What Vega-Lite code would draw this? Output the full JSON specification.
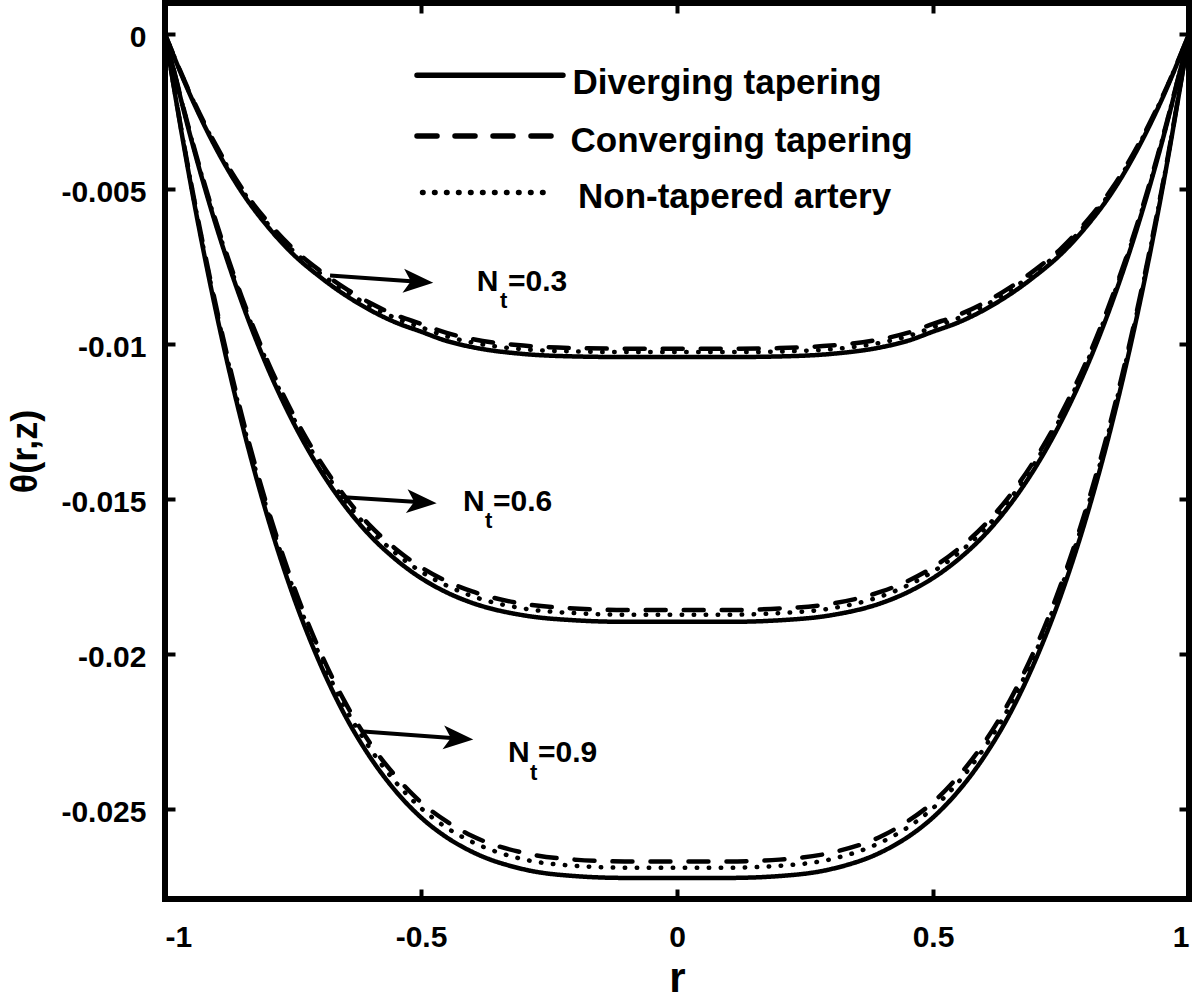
{
  "$schema": "https://vega.github.io/schema/vega-lite/v6.json",
  "description": "Temperature profile theta(r,z) across the artery for three Nt values and three tapering shapes",
  "width": 1024,
  "height": 896,
  "autosize": {"type": "none"},
  "padding": {"left": 165, "top": 3, "right": 11, "bottom": 102},
  "config": {
    "view": {"stroke": "black", "strokeWidth": 6},
    "font": "Liberation Sans",
    "axis": {
      "domain": false,
      "grid": false,
      "tickSize": -10,
      "tickWidth": 4,
      "tickColor": "black",
      "labelFont": "Liberation Sans",
      "labelFontSize": 30,
      "labelFontWeight": "bold",
      "labelColor": "black",
      "titleFont": "Liberation Sans",
      "titleFontWeight": "bold",
      "titleColor": "black"
    }
  },
  "datasets": {
    "curves": [
      {"r":-1,"v":0,"s":"D","n":"0.3"},{"r":-0.95,"v":-0.002,"s":"D","n":"0.3"},{"r":-0.9,"v":-0.0037,"s":"D","n":"0.3"},{"r":-0.85,"v":-0.0051,"s":"D","n":"0.3"},{"r":-0.8,"v":-0.0062,"s":"D","n":"0.3"},{"r":-0.75,"v":-0.0071,"s":"D","n":"0.3"},{"r":-0.7,"v":-0.0078,"s":"D","n":"0.3"},{"r":-0.65,"v":-0.0084,"s":"D","n":"0.3"},{"r":-0.6,"v":-0.0089,"s":"D","n":"0.3"},{"r":-0.55,"v":-0.0093,"s":"D","n":"0.3"},{"r":-0.5,"v":-0.0096,"s":"D","n":"0.3"},{"r":-0.45,"v":-0.0099,"s":"D","n":"0.3"},{"r":-0.4,"v":-0.0101,"s":"D","n":"0.3"},{"r":-0.3,"v":-0.01032,"s":"D","n":"0.3"},{"r":-0.2,"v":-0.0104,"s":"D","n":"0.3"},{"r":-0.1,"v":-0.01042,"s":"D","n":"0.3"},{"r":0,"v":-0.01042,"s":"D","n":"0.3"},{"r":0.1,"v":-0.01042,"s":"D","n":"0.3"},{"r":0.2,"v":-0.0104,"s":"D","n":"0.3"},{"r":0.3,"v":-0.01032,"s":"D","n":"0.3"},{"r":0.4,"v":-0.0101,"s":"D","n":"0.3"},{"r":0.45,"v":-0.0099,"s":"D","n":"0.3"},{"r":0.5,"v":-0.0096,"s":"D","n":"0.3"},{"r":0.55,"v":-0.0093,"s":"D","n":"0.3"},{"r":0.6,"v":-0.0089,"s":"D","n":"0.3"},{"r":0.65,"v":-0.0084,"s":"D","n":"0.3"},{"r":0.7,"v":-0.0078,"s":"D","n":"0.3"},{"r":0.75,"v":-0.0071,"s":"D","n":"0.3"},{"r":0.8,"v":-0.0062,"s":"D","n":"0.3"},{"r":0.85,"v":-0.0051,"s":"D","n":"0.3"},{"r":0.9,"v":-0.0037,"s":"D","n":"0.3"},{"r":0.95,"v":-0.002,"s":"D","n":"0.3"},{"r":1,"v":0,"s":"D","n":"0.3"},

      {"r":-1,"v":0,"s":"D","n":"0.6"},{"r":-0.95,"v":-0.00332,"s":"D","n":"0.6"},{"r":-0.9,"v":-0.00619,"s":"D","n":"0.6"},{"r":-0.85,"v":-0.00865,"s":"D","n":"0.6"},{"r":-0.8,"v":-0.01075,"s":"D","n":"0.6"},{"r":-0.75,"v":-0.01251,"s":"D","n":"0.6"},{"r":-0.7,"v":-0.01398,"s":"D","n":"0.6"},{"r":-0.65,"v":-0.01519,"s":"D","n":"0.6"},{"r":-0.6,"v":-0.01617,"s":"D","n":"0.6"},{"r":-0.55,"v":-0.01694,"s":"D","n":"0.6"},{"r":-0.5,"v":-0.01755,"s":"D","n":"0.6"},{"r":-0.45,"v":-0.01801,"s":"D","n":"0.6"},{"r":-0.4,"v":-0.01835,"s":"D","n":"0.6"},{"r":-0.3,"v":-0.01875,"s":"D","n":"0.6"},{"r":-0.2,"v":-0.01891,"s":"D","n":"0.6"},{"r":-0.1,"v":-0.01896,"s":"D","n":"0.6"},{"r":0,"v":-0.01896,"s":"D","n":"0.6"},{"r":0.1,"v":-0.01896,"s":"D","n":"0.6"},{"r":0.2,"v":-0.01891,"s":"D","n":"0.6"},{"r":0.3,"v":-0.01875,"s":"D","n":"0.6"},{"r":0.4,"v":-0.01835,"s":"D","n":"0.6"},{"r":0.45,"v":-0.01801,"s":"D","n":"0.6"},{"r":0.5,"v":-0.01755,"s":"D","n":"0.6"},{"r":0.55,"v":-0.01694,"s":"D","n":"0.6"},{"r":0.6,"v":-0.01617,"s":"D","n":"0.6"},{"r":0.65,"v":-0.01519,"s":"D","n":"0.6"},{"r":0.7,"v":-0.01398,"s":"D","n":"0.6"},{"r":0.75,"v":-0.01251,"s":"D","n":"0.6"},{"r":0.8,"v":-0.01075,"s":"D","n":"0.6"},{"r":0.85,"v":-0.00865,"s":"D","n":"0.6"},{"r":0.9,"v":-0.00619,"s":"D","n":"0.6"},{"r":0.95,"v":-0.00332,"s":"D","n":"0.6"},{"r":1,"v":0,"s":"D","n":"0.6"},

      {"r":-1,"v":0,"s":"D","n":"0.9"},{"r":-0.95,"v":-0.00482,"s":"D","n":"0.9"},{"r":-0.9,"v":-0.00898,"s":"D","n":"0.9"},{"r":-0.85,"v":-0.01254,"s":"D","n":"0.9"},{"r":-0.8,"v":-0.01556,"s":"D","n":"0.9"},{"r":-0.75,"v":-0.0181,"s":"D","n":"0.9"},{"r":-0.7,"v":-0.0202,"s":"D","n":"0.9"},{"r":-0.65,"v":-0.02193,"s":"D","n":"0.9"},{"r":-0.6,"v":-0.02331,"s":"D","n":"0.9"},{"r":-0.55,"v":-0.02441,"s":"D","n":"0.9"},{"r":-0.5,"v":-0.02527,"s":"D","n":"0.9"},{"r":-0.45,"v":-0.02591,"s":"D","n":"0.9"},{"r":-0.4,"v":-0.02638,"s":"D","n":"0.9"},{"r":-0.3,"v":-0.02694,"s":"D","n":"0.9"},{"r":-0.2,"v":-0.02716,"s":"D","n":"0.9"},{"r":-0.1,"v":-0.02722,"s":"D","n":"0.9"},{"r":0,"v":-0.02722,"s":"D","n":"0.9"},{"r":0.1,"v":-0.02722,"s":"D","n":"0.9"},{"r":0.2,"v":-0.02716,"s":"D","n":"0.9"},{"r":0.3,"v":-0.02694,"s":"D","n":"0.9"},{"r":0.4,"v":-0.02638,"s":"D","n":"0.9"},{"r":0.45,"v":-0.02591,"s":"D","n":"0.9"},{"r":0.5,"v":-0.02527,"s":"D","n":"0.9"},{"r":0.55,"v":-0.02441,"s":"D","n":"0.9"},{"r":0.6,"v":-0.02331,"s":"D","n":"0.9"},{"r":0.65,"v":-0.02193,"s":"D","n":"0.9"},{"r":0.7,"v":-0.0202,"s":"D","n":"0.9"},{"r":0.75,"v":-0.0181,"s":"D","n":"0.9"},{"r":0.8,"v":-0.01556,"s":"D","n":"0.9"},{"r":0.85,"v":-0.01254,"s":"D","n":"0.9"},{"r":0.9,"v":-0.00898,"s":"D","n":"0.9"},{"r":0.95,"v":-0.00482,"s":"D","n":"0.9"},{"r":1,"v":0,"s":"D","n":"0.9"},

      {"r":-1,"v":0,"s":"N","n":"0.3"},{"r":-0.95,"v":-0.00197,"s":"N","n":"0.3"},{"r":-0.9,"v":-0.00364,"s":"N","n":"0.3"},{"r":-0.85,"v":-0.00502,"s":"N","n":"0.3"},{"r":-0.8,"v":-0.00611,"s":"N","n":"0.3"},{"r":-0.75,"v":-0.00699,"s":"N","n":"0.3"},{"r":-0.7,"v":-0.00768,"s":"N","n":"0.3"},{"r":-0.65,"v":-0.00827,"s":"N","n":"0.3"},{"r":-0.6,"v":-0.00877,"s":"N","n":"0.3"},{"r":-0.55,"v":-0.00916,"s":"N","n":"0.3"},{"r":-0.5,"v":-0.00946,"s":"N","n":"0.3"},{"r":-0.45,"v":-0.00975,"s":"N","n":"0.3"},{"r":-0.4,"v":-0.00995,"s":"N","n":"0.3"},{"r":-0.3,"v":-0.01017,"s":"N","n":"0.3"},{"r":-0.2,"v":-0.01024,"s":"N","n":"0.3"},{"r":-0.1,"v":-0.01026,"s":"N","n":"0.3"},{"r":0,"v":-0.01026,"s":"N","n":"0.3"},{"r":0.1,"v":-0.01026,"s":"N","n":"0.3"},{"r":0.2,"v":-0.01024,"s":"N","n":"0.3"},{"r":0.3,"v":-0.01017,"s":"N","n":"0.3"},{"r":0.4,"v":-0.00995,"s":"N","n":"0.3"},{"r":0.45,"v":-0.00975,"s":"N","n":"0.3"},{"r":0.5,"v":-0.00946,"s":"N","n":"0.3"},{"r":0.55,"v":-0.00916,"s":"N","n":"0.3"},{"r":0.6,"v":-0.00877,"s":"N","n":"0.3"},{"r":0.65,"v":-0.00827,"s":"N","n":"0.3"},{"r":0.7,"v":-0.00768,"s":"N","n":"0.3"},{"r":0.75,"v":-0.00699,"s":"N","n":"0.3"},{"r":0.8,"v":-0.00611,"s":"N","n":"0.3"},{"r":0.85,"v":-0.00502,"s":"N","n":"0.3"},{"r":0.9,"v":-0.00364,"s":"N","n":"0.3"},{"r":0.95,"v":-0.00197,"s":"N","n":"0.3"},{"r":1,"v":0,"s":"N","n":"0.3"},

      {"r":-1,"v":0,"s":"N","n":"0.6"},{"r":-0.95,"v":-0.00328,"s":"N","n":"0.6"},{"r":-0.9,"v":-0.00612,"s":"N","n":"0.6"},{"r":-0.85,"v":-0.00855,"s":"N","n":"0.6"},{"r":-0.8,"v":-0.01062,"s":"N","n":"0.6"},{"r":-0.75,"v":-0.01236,"s":"N","n":"0.6"},{"r":-0.7,"v":-0.01381,"s":"N","n":"0.6"},{"r":-0.65,"v":-0.01501,"s":"N","n":"0.6"},{"r":-0.6,"v":-0.01598,"s":"N","n":"0.6"},{"r":-0.55,"v":-0.01674,"s":"N","n":"0.6"},{"r":-0.5,"v":-0.01734,"s":"N","n":"0.6"},{"r":-0.45,"v":-0.01779,"s":"N","n":"0.6"},{"r":-0.4,"v":-0.01813,"s":"N","n":"0.6"},{"r":-0.3,"v":-0.01853,"s":"N","n":"0.6"},{"r":-0.2,"v":-0.01868,"s":"N","n":"0.6"},{"r":-0.1,"v":-0.01873,"s":"N","n":"0.6"},{"r":0,"v":-0.01873,"s":"N","n":"0.6"},{"r":0.1,"v":-0.01873,"s":"N","n":"0.6"},{"r":0.2,"v":-0.01868,"s":"N","n":"0.6"},{"r":0.3,"v":-0.01853,"s":"N","n":"0.6"},{"r":0.4,"v":-0.01813,"s":"N","n":"0.6"},{"r":0.45,"v":-0.01779,"s":"N","n":"0.6"},{"r":0.5,"v":-0.01734,"s":"N","n":"0.6"},{"r":0.55,"v":-0.01674,"s":"N","n":"0.6"},{"r":0.6,"v":-0.01598,"s":"N","n":"0.6"},{"r":0.65,"v":-0.01501,"s":"N","n":"0.6"},{"r":0.7,"v":-0.01381,"s":"N","n":"0.6"},{"r":0.75,"v":-0.01236,"s":"N","n":"0.6"},{"r":0.8,"v":-0.01062,"s":"N","n":"0.6"},{"r":0.85,"v":-0.00855,"s":"N","n":"0.6"},{"r":0.9,"v":-0.00612,"s":"N","n":"0.6"},{"r":0.95,"v":-0.00328,"s":"N","n":"0.6"},{"r":1,"v":0,"s":"N","n":"0.6"},

      {"r":-1,"v":0,"s":"N","n":"0.9"},{"r":-0.95,"v":-0.00476,"s":"N","n":"0.9"},{"r":-0.9,"v":-0.00887,"s":"N","n":"0.9"},{"r":-0.85,"v":-0.01239,"s":"N","n":"0.9"},{"r":-0.8,"v":-0.01537,"s":"N","n":"0.9"},{"r":-0.75,"v":-0.01788,"s":"N","n":"0.9"},{"r":-0.7,"v":-0.01996,"s":"N","n":"0.9"},{"r":-0.65,"v":-0.02167,"s":"N","n":"0.9"},{"r":-0.6,"v":-0.02303,"s":"N","n":"0.9"},{"r":-0.55,"v":-0.02412,"s":"N","n":"0.9"},{"r":-0.5,"v":-0.02497,"s":"N","n":"0.9"},{"r":-0.45,"v":-0.0256,"s":"N","n":"0.9"},{"r":-0.4,"v":-0.02606,"s":"N","n":"0.9"},{"r":-0.3,"v":-0.02662,"s":"N","n":"0.9"},{"r":-0.2,"v":-0.02683,"s":"N","n":"0.9"},{"r":-0.1,"v":-0.02689,"s":"N","n":"0.9"},{"r":0,"v":-0.02689,"s":"N","n":"0.9"},{"r":0.1,"v":-0.02689,"s":"N","n":"0.9"},{"r":0.2,"v":-0.02683,"s":"N","n":"0.9"},{"r":0.3,"v":-0.02662,"s":"N","n":"0.9"},{"r":0.4,"v":-0.02606,"s":"N","n":"0.9"},{"r":0.45,"v":-0.0256,"s":"N","n":"0.9"},{"r":0.5,"v":-0.02497,"s":"N","n":"0.9"},{"r":0.55,"v":-0.02412,"s":"N","n":"0.9"},{"r":0.6,"v":-0.02303,"s":"N","n":"0.9"},{"r":0.65,"v":-0.02167,"s":"N","n":"0.9"},{"r":0.7,"v":-0.01996,"s":"N","n":"0.9"},{"r":0.75,"v":-0.01788,"s":"N","n":"0.9"},{"r":0.8,"v":-0.01537,"s":"N","n":"0.9"},{"r":0.85,"v":-0.01239,"s":"N","n":"0.9"},{"r":0.9,"v":-0.00887,"s":"N","n":"0.9"},{"r":0.95,"v":-0.00476,"s":"N","n":"0.9"},{"r":1,"v":0,"s":"N","n":"0.9"},

      {"r":-1,"v":0,"s":"C","n":"0.3"},{"r":-0.95,"v":-0.00195,"s":"C","n":"0.3"},{"r":-0.9,"v":-0.0036,"s":"C","n":"0.3"},{"r":-0.85,"v":-0.00497,"s":"C","n":"0.3"},{"r":-0.8,"v":-0.00604,"s":"C","n":"0.3"},{"r":-0.75,"v":-0.00692,"s":"C","n":"0.3"},{"r":-0.7,"v":-0.0076,"s":"C","n":"0.3"},{"r":-0.65,"v":-0.00818,"s":"C","n":"0.3"},{"r":-0.6,"v":-0.00867,"s":"C","n":"0.3"},{"r":-0.55,"v":-0.00906,"s":"C","n":"0.3"},{"r":-0.5,"v":-0.00935,"s":"C","n":"0.3"},{"r":-0.45,"v":-0.00964,"s":"C","n":"0.3"},{"r":-0.4,"v":-0.00984,"s":"C","n":"0.3"},{"r":-0.3,"v":-0.01005,"s":"C","n":"0.3"},{"r":-0.2,"v":-0.01013,"s":"C","n":"0.3"},{"r":-0.1,"v":-0.01015,"s":"C","n":"0.3"},{"r":0,"v":-0.01015,"s":"C","n":"0.3"},{"r":0.1,"v":-0.01015,"s":"C","n":"0.3"},{"r":0.2,"v":-0.01013,"s":"C","n":"0.3"},{"r":0.3,"v":-0.01005,"s":"C","n":"0.3"},{"r":0.4,"v":-0.00984,"s":"C","n":"0.3"},{"r":0.45,"v":-0.00964,"s":"C","n":"0.3"},{"r":0.5,"v":-0.00935,"s":"C","n":"0.3"},{"r":0.55,"v":-0.00906,"s":"C","n":"0.3"},{"r":0.6,"v":-0.00867,"s":"C","n":"0.3"},{"r":0.65,"v":-0.00818,"s":"C","n":"0.3"},{"r":0.7,"v":-0.0076,"s":"C","n":"0.3"},{"r":0.75,"v":-0.00692,"s":"C","n":"0.3"},{"r":0.8,"v":-0.00604,"s":"C","n":"0.3"},{"r":0.85,"v":-0.00497,"s":"C","n":"0.3"},{"r":0.9,"v":-0.0036,"s":"C","n":"0.3"},{"r":0.95,"v":-0.00195,"s":"C","n":"0.3"},{"r":1,"v":0,"s":"C","n":"0.3"},

      {"r":-1,"v":0,"s":"C","n":"0.6"},{"r":-0.95,"v":-0.00325,"s":"C","n":"0.6"},{"r":-0.9,"v":-0.00607,"s":"C","n":"0.6"},{"r":-0.85,"v":-0.00848,"s":"C","n":"0.6"},{"r":-0.8,"v":-0.01054,"s":"C","n":"0.6"},{"r":-0.75,"v":-0.01226,"s":"C","n":"0.6"},{"r":-0.7,"v":-0.0137,"s":"C","n":"0.6"},{"r":-0.65,"v":-0.01489,"s":"C","n":"0.6"},{"r":-0.6,"v":-0.01585,"s":"C","n":"0.6"},{"r":-0.55,"v":-0.0166,"s":"C","n":"0.6"},{"r":-0.5,"v":-0.0172,"s":"C","n":"0.6"},{"r":-0.45,"v":-0.01765,"s":"C","n":"0.6"},{"r":-0.4,"v":-0.01798,"s":"C","n":"0.6"},{"r":-0.3,"v":-0.01838,"s":"C","n":"0.6"},{"r":-0.2,"v":-0.01853,"s":"C","n":"0.6"},{"r":-0.1,"v":-0.01858,"s":"C","n":"0.6"},{"r":0,"v":-0.01858,"s":"C","n":"0.6"},{"r":0.1,"v":-0.01858,"s":"C","n":"0.6"},{"r":0.2,"v":-0.01853,"s":"C","n":"0.6"},{"r":0.3,"v":-0.01838,"s":"C","n":"0.6"},{"r":0.4,"v":-0.01798,"s":"C","n":"0.6"},{"r":0.45,"v":-0.01765,"s":"C","n":"0.6"},{"r":0.5,"v":-0.0172,"s":"C","n":"0.6"},{"r":0.55,"v":-0.0166,"s":"C","n":"0.6"},{"r":0.6,"v":-0.01585,"s":"C","n":"0.6"},{"r":0.65,"v":-0.01489,"s":"C","n":"0.6"},{"r":0.7,"v":-0.0137,"s":"C","n":"0.6"},{"r":0.75,"v":-0.01226,"s":"C","n":"0.6"},{"r":0.8,"v":-0.01054,"s":"C","n":"0.6"},{"r":0.85,"v":-0.00848,"s":"C","n":"0.6"},{"r":0.9,"v":-0.00607,"s":"C","n":"0.6"},{"r":0.95,"v":-0.00325,"s":"C","n":"0.6"},{"r":1,"v":0,"s":"C","n":"0.6"},

      {"r":-1,"v":0,"s":"C","n":"0.9"},{"r":-0.95,"v":-0.00473,"s":"C","n":"0.9"},{"r":-0.9,"v":-0.0088,"s":"C","n":"0.9"},{"r":-0.85,"v":-0.0123,"s":"C","n":"0.9"},{"r":-0.8,"v":-0.01526,"s":"C","n":"0.9"},{"r":-0.75,"v":-0.01775,"s":"C","n":"0.9"},{"r":-0.7,"v":-0.01981,"s":"C","n":"0.9"},{"r":-0.65,"v":-0.0215,"s":"C","n":"0.9"},{"r":-0.6,"v":-0.02286,"s":"C","n":"0.9"},{"r":-0.55,"v":-0.02393,"s":"C","n":"0.9"},{"r":-0.5,"v":-0.02478,"s":"C","n":"0.9"},{"r":-0.45,"v":-0.0254,"s":"C","n":"0.9"},{"r":-0.4,"v":-0.02587,"s":"C","n":"0.9"},{"r":-0.3,"v":-0.02641,"s":"C","n":"0.9"},{"r":-0.2,"v":-0.02663,"s":"C","n":"0.9"},{"r":-0.1,"v":-0.02669,"s":"C","n":"0.9"},{"r":0,"v":-0.02669,"s":"C","n":"0.9"},{"r":0.1,"v":-0.02669,"s":"C","n":"0.9"},{"r":0.2,"v":-0.02663,"s":"C","n":"0.9"},{"r":0.3,"v":-0.02641,"s":"C","n":"0.9"},{"r":0.4,"v":-0.02587,"s":"C","n":"0.9"},{"r":0.45,"v":-0.0254,"s":"C","n":"0.9"},{"r":0.5,"v":-0.02478,"s":"C","n":"0.9"},{"r":0.55,"v":-0.02393,"s":"C","n":"0.9"},{"r":0.6,"v":-0.02286,"s":"C","n":"0.9"},{"r":0.65,"v":-0.0215,"s":"C","n":"0.9"},{"r":0.7,"v":-0.01981,"s":"C","n":"0.9"},{"r":0.75,"v":-0.01775,"s":"C","n":"0.9"},{"r":0.8,"v":-0.01526,"s":"C","n":"0.9"},{"r":0.85,"v":-0.0123,"s":"C","n":"0.9"},{"r":0.9,"v":-0.0088,"s":"C","n":"0.9"},{"r":0.95,"v":-0.00473,"s":"C","n":"0.9"},{"r":1,"v":0,"s":"C","n":"0.9"}
    ],
    "legendLines": [
      {"s":"D","r":-0.5078,"v":-0.00133},{"s":"D","r":-0.2227,"v":-0.00133},
      {"s":"C","r":-0.5078,"v":-0.00329},{"s":"C","r":-0.2402,"v":-0.00329},
      {"s":"N","r":-0.497,"v":-0.00511},{"s":"N","r":-0.248,"v":-0.00511}
    ],
    "legendText": [
      {"t":"Diverging tapering","r":-0.2043,"v":-0.00157},
      {"t":"Converging tapering","r":-0.208,"v":-0.00345},
      {"t":"Non-tapered artery","r":-0.1934,"v":-0.00527}
    ],
    "arrows": [
      {"n":"0.3","r1":-0.6777,"v1":-0.00779,"r2":-0.5053,"v2":-0.00799},
      {"n":"0.6","r1":-0.6582,"v1":-0.01493,"r2":-0.4986,"v2":-0.0151},
      {"n":"0.9","r1":-0.6127,"v1":-0.0225,"r2":-0.4271,"v2":-0.02272}
    ],
    "labels": [
      {"t":"N","r":-0.3912,"v":-0.00801},{"t":"=0.3","r":-0.3301,"v":-0.00801},
      {"t":"N","r":-0.418,"v":-0.0151},{"t":"=0.6","r":-0.3594,"v":-0.0151},
      {"t":"N","r":-0.3301,"v":-0.02319},{"t":"=0.9","r":-0.2715,"v":-0.02319}
    ],
    "subs": [
      {"t":"t","r":-0.3457,"v":-0.00862},
      {"t":"t","r":-0.375,"v":-0.01572},
      {"t":"t","r":-0.2871,"v":-0.02382}
    ]
  },
  "layer": [
    {
      "data": {"name": "curves"},
      "mark": {"type": "line", "strokeWidth": 4.5, "color": "black", "interpolate": "monotone", "strokeCap": "round"},
      "encoding": {
        "x": {
          "field": "r", "type": "quantitative",
          "scale": {"domain": [-1, 1], "nice": false, "zero": false},
          "axis": {"orient": "bottom", "values": [-1, -0.5, 0, 0.5, 1], "labelExpr": "'' + datum.value", "labelPadding": 33, "title": "r", "titleFontSize": 42, "titlePadding": 6}
        },
        "y": {
          "field": "v", "type": "quantitative",
          "scale": {"domain": [-0.0279, 0.001], "nice": false, "zero": false},
          "axis": {"orient": "left", "values": [-0.025, -0.02, -0.015, -0.01, -0.005, 0], "labelExpr": "'' + datum.value", "labelPadding": 29, "labelOffset": 3, "title": "θ(r,z)", "titleFontSize": 36, "titlePadding": 16}
        },
        "strokeDash": {
          "field": "s", "type": "nominal",
          "scale": {"domain": ["D", "N", "C"], "range": [[1, 0], [0.5, 11.5], [20, 18]]},
          "legend": null
        },
        "detail": {"field": "n", "type": "nominal"}
      }
    },
    {
      "data": {"name": "legendLines"},
      "mark": {"type": "line", "strokeWidth": 5.5, "color": "black", "strokeCap": "round"},
      "encoding": {
        "x": {"field": "r", "type": "quantitative", "axis": {"orient": "top", "values": [-1, -0.5, 0, 0.5, 1], "labels": false, "title": null}},
        "y": {"field": "v", "type": "quantitative", "axis": {"orient": "right", "values": [-0.025, -0.02, -0.015, -0.01, -0.005, 0], "labels": false, "title": null}},
        "strokeDash": {"field": "s", "type": "nominal", "legend": null},
        "detail": {"field": "s", "type": "nominal"}
      }
    },
    {
      "data": {"name": "legendText"},
      "mark": {"type": "text", "align": "left", "baseline": "middle", "fontSize": 35, "fontWeight": "bold", "font": "Liberation Sans", "color": "black"},
      "encoding": {
        "x": {"field": "r", "type": "quantitative", "axis": null},
        "y": {"field": "v", "type": "quantitative", "axis": null},
        "text": {"field": "t"}
      }
    },
    {
      "data": {"name": "arrows"},
      "mark": {"type": "rule", "strokeWidth": 4, "color": "black"},
      "encoding": {
        "x": {"field": "r1", "type": "quantitative", "axis": null},
        "y": {"field": "v1", "type": "quantitative", "axis": null},
        "x2": {"field": "r2"},
        "y2": {"field": "v2"}
      }
    },
    {
      "data": {"name": "arrows"},
      "mark": {"type": "point", "shape": "M1,0L-1,-0.8L-0.5,0L-1,0.8Z", "size": 900, "filled": true, "opacity": 1, "color": "black", "angle": 4},
      "encoding": {
        "x": {"field": "r2", "type": "quantitative", "axis": null},
        "y": {"field": "v2", "type": "quantitative", "axis": null}
      }
    },
    {
      "data": {"name": "labels"},
      "mark": {"type": "text", "align": "left", "baseline": "middle", "fontSize": 30, "fontWeight": "bold", "font": "Liberation Sans", "color": "black"},
      "encoding": {
        "x": {"field": "r", "type": "quantitative", "axis": null},
        "y": {"field": "v", "type": "quantitative", "axis": null},
        "text": {"field": "t"}
      }
    },
    {
      "data": {"name": "subs"},
      "mark": {"type": "text", "align": "left", "baseline": "middle", "fontSize": 22, "fontWeight": "bold", "font": "Liberation Sans", "color": "black"},
      "encoding": {
        "x": {"field": "r", "type": "quantitative", "axis": null},
        "y": {"field": "v", "type": "quantitative", "axis": null},
        "text": {"field": "t"}
      }
    }
  ],
  "resolve": {"axis": {"x": "independent", "y": "independent"}}
}
